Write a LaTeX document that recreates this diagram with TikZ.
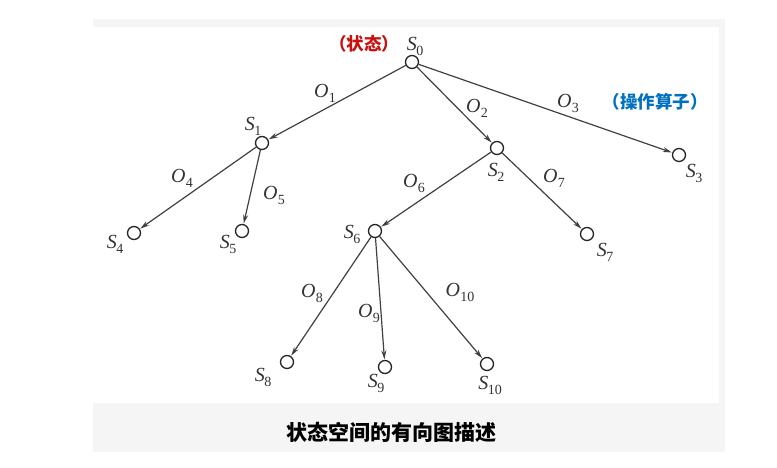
\documentclass[tikz,border=0pt]{standalone}
\usepackage{fontspec}
\usepackage{tikz}
\usetikzlibrary{arrows.meta, positioning}
\setmainfont{Liberation Serif}
\newfontfamily\cjk{Noto Sans CJK SC}
\definecolor{state_red}{RGB}{200,16,16}
\definecolor{op_blue}{RGB}{0,112,192}
\newcommand{\stname}[1]{\textit{S}\kern-0.5pt\raisebox{-0.25em}{\fontsize{14}{14}\selectfont #1}}
\newcommand{\opname}[1]{\textit{O}\kern0.5pt\raisebox{-0.25em}{\fontsize{14}{14}\selectfont #1}}
\tikzset{
  state_node/.style={circle, draw=black!85, fill=white, line width=1.3pt, minimum size=13pt, inner sep=0pt},
  state_label/.style={font=\fontsize{20}{22}\selectfont, text=black!80, inner sep=0pt},
  op_label/.style={font=\fontsize{20}{22}\selectfont, text=black!80, inner sep=0pt},
  note_red/.style={font=\cjk\bfseries\fontsize{17.5}{19}\selectfont, text=state_red, inner sep=0pt},
  note_blue/.style={font=\cjk\bfseries\fontsize{17.5}{19}\selectfont, text=op_blue, inner sep=0pt},
  caption_text/.style={font=\cjk\bfseries\fontsize{21}{23}\selectfont, inner sep=0pt},
  band/.style={fill=black!4, draw=none},
  arrow/.style={-{Stealth[length=9pt,width=5pt]}, line width=1.2pt, black!75, shorten >=0.5pt}
}
\begin{document}
\begin{tikzpicture}[x=1pt, y=-1pt]
    \useasboundingbox (0,0) rectangle (777,467);

    % frame bands round the figure
    \fill[band] (93,19) rectangle (725,27);
    \fill[band] (719,19) rectangle (725,452);
    \fill[band] (93,403) rectangle (725,452);

    % states, placed at absolute positions
    \node[state_node] (s0) at (412,62) {};
    \node[state_node] (s1) at (262,143) {};
    \node[state_node] (s2) at (497,148) {};
    \node[state_node] (s3) at (679,155) {};
    \node[state_node] (s4) at (134,233) {};
    \node[state_node] (s5) at (242,231) {};
    \node[state_node] (s6) at (375,231) {};
    \node[state_node] (s7) at (587,234) {};
    \node[state_node] (s8) at (287,362) {};
    \node[state_node] (s9) at (385,367) {};
    \node[state_node] (s10) at (487,364) {};

    % state names
    \node[state_label] (l0) at (415,46) {\stname{0}};
    \node[state_label] (l1) at (253,126) {\stname{1}};
    \node[state_label] (l2) at (496,172) {\stname{2}};
    \node[state_label] (l3) at (694,173) {\stname{3}};
    \node[state_label] (l4) at (115,244) {\stname{4}};
    \node[state_label] (l5) at (228,244) {\stname{5}};
    \node[state_label] (l6) at (352,234) {\stname{6}};
    \node[state_label] (l7) at (605,252) {\stname{7}};
    \node[state_label] (l8) at (263,377) {\stname{8}};
    \node[state_label] (l9) at (376,383) {\stname{9}};
    \node[state_label] (l10) at (490,385) {\stname{10}};

    % operators
    \draw[arrow] (s0) -- (s1);
    \draw[arrow] (s0) -- (s2);
    \draw[arrow] (s0) -- (s3);
    \draw[arrow] (s1) -- (s4);
    \draw[arrow] (s1) -- (s5);
    \draw[arrow] (s2) -- (s6);
    \draw[arrow] (s2) -- (s7);
    \draw[arrow] (s6) -- (s8);
    \draw[arrow] (s6) -- (s9);
    \draw[arrow] (s6) -- (s10);

    % operator names
    \node[op_label] (o1) at (325,93) {\opname{1}};
    \node[op_label] (o2) at (477,108) {\opname{2}};
    \node[op_label] (o3) at (568,103) {\opname{3}};
    \node[op_label] (o4) at (182,178) {\opname{4}};
    \node[op_label] (o5) at (274,195) {\opname{5}};
    \node[op_label] (o6) at (414,183) {\opname{6}};
    \node[op_label] (o7) at (554,178) {\opname{7}};
    \node[op_label] (o8) at (312,293) {\opname{8}};
    \node[op_label] (o9) at (369,313) {\opname{9}};
    \node[op_label] (o10) at (460,292) {\opname{10}};

    % notes
    \node[note_red] (note_state) at (364,44) {（状态）};
    \node[note_blue] (note_op) at (655,102) {（操作算子）};
    \node[caption_text] (caption) at (391,432) {状态空间的有向图描述};
\end{tikzpicture}
\end{document}
